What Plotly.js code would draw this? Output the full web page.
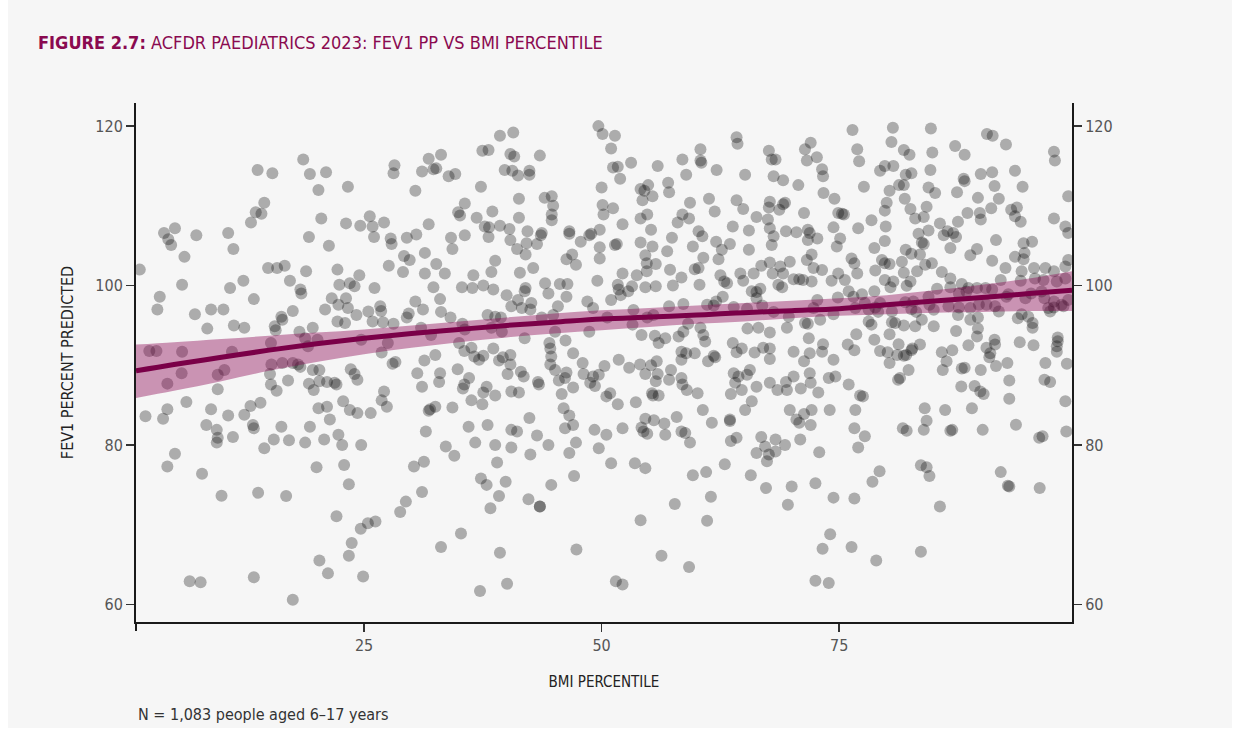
<!DOCTYPE html>
<html>
<head>
<meta charset="utf-8">
<script src="https://cdn.plot.ly/plotly-3.0.1.min.js"></script>
<style>
  html, body { margin: 0; padding: 0; background: #ffffff; }
  #panel { position: absolute; left: 8px; top: 0; width: 1224px; height: 728px; background: #f6f6f6; }
  #chart { position: absolute; left: 0; top: 0; width: 1240px; height: 731px; }
</style>
</head>
<body>
<div id="panel"></div>
<div id="chart"></div>
<script>
// Individual observations: [BMI percentile, FEV1 % predicted], grouped by region of the plot
const obsHighLow = [[13.8,114.5],[15.35,114.1],[18.6,115.8],[19.3,114.0],[21.0,114.2],[20.2,112.0],[23.3,112.4],[14.5,110.4],[13.6,109.2],[14.2,109.0],[13.1,107.9],[20.5,108.4],[23.1,107.8],[24.6,107.5],[3.95,106.6],[5.1,107.2],[4.4,105.8],[4.7,105.1],[7.35,106.3],[10.7,106.6],[11.25,104.6],[6.1,103.6],[19.2,106.1],[21.3,105.0],[1.4,102.0],[14.9,102.2],[15.85,102.2],[16.65,102.5],[18.9,101.8],[22.2,102.0],[24.5,101.3]];

const obsHighMidLow = [[39.3,118.8],[40.7,119.2],[49.66,120.0],[50.1,119.0],[37.45,116.9],[38.1,117.0],[40.4,116.5],[40.8,116.2],[43.5,116.3],[28.2,115.1],[28.1,114.1],[31.8,115.9],[33.1,116.4],[31.1,114.3],[32.3,114.6],[32.6,114.7],[33.9,113.7],[34.6,114.0],[39.8,114.5],[40.6,114.4],[41.2,113.8],[42.4,114.4],[42.4,113.9],[30.4,111.9],[37.3,112.4],[41.3,110.9],[44.0,111.0],[44.75,111.2],[44.9,110.0],[44.75,108.9],[44.75,108.2],[50.0,112.3],[50.1,110.1],[50.2,108.9],[35.6,110.3],[34.9,109.2],[35.1,108.8],[38.5,109.3],[36.85,108.5],[41.3,108.5],[25.6,108.7],[25.9,107.4],[27.1,107.9],[26.05,106.1],[27.8,105.9],[27.9,105.2],[29.5,106.0],[30.5,106.4],[31.8,107.7],[34.15,106.0],[34.3,104.6],[35.6,106.3],[37.7,107.4],[38.15,107.3],[38.1,106.1],[39.3,107.5],[40.3,107.1],[40.4,105.7],[42.2,106.8],[43.6,106.3],[43.7,106.6],[42.1,105.3],[43.2,105.2],[41.1,104.6],[42.0,103.9],[46.6,106.8],[46.6,106.5],[47.8,105.5],[48.7,106.3],[48.9,106.5],[49.8,107.0],[49.8,104.8],[49.8,103.4],[46.9,103.9],[46.3,103.3],[47.3,102.6],[29.2,103.7],[29.8,103.2],[31.4,104.1],[27.6,102.5],[32.6,102.7],[29.1,101.7],[31.4,101.5],[33.5,101.5],[36.5,101.3],[38.8,103.1],[38.4,101.7],[41.4,101.6],[42.8,102.2]];

const obsHighMidHigh = [[51.4,118.8],[51.0,117.2],[64.2,118.6],[64.3,117.8],[60.4,117.1],[60.4,115.7],[60.5,115.4],[67.6,116.9],[67.9,115.8],[68.3,115.8],[72.0,117.9],[71.4,117.1],[71.6,115.7],[72.65,116.1],[53.1,115.4],[55.9,115.0],[58.5,115.8],[62.1,114.5],[51.2,114.8],[51.7,114.9],[51.95,113.4],[58.9,113.9],[65.1,113.9],[68.1,113.7],[69.1,113.2],[70.7,112.6],[73.2,114.6],[73.3,113.7],[73.35,111.6],[54.1,112.1],[54.5,111.9],[54.9,112.6],[54.3,110.7],[55.35,111.2],[57.0,112.9],[57.1,111.7],[59.3,110.4],[61.3,110.9],[61.9,109.3],[64.2,110.7],[64.9,109.6],[67.7,110.5],[67.6,109.8],[68.7,109.5],[69.1,110.2],[69.3,110.4],[71.3,109.1],[74.5,110.9],[74.9,109.1],[51.2,109.7],[54.8,108.9],[54.1,108.4],[58.5,108.9],[58.0,107.9],[59.2,108.4],[52.2,107.7],[55.2,107.0],[57.4,106.0],[60.2,106.8],[60.6,106.2],[63.8,107.4],[65.5,106.9],[66.3,108.6],[67.5,108.3],[67.7,107.2],[68.1,106.2],[67.9,105.1],[69.4,106.8],[70.5,106.7],[71.7,107.0],[71.9,106.6],[71.7,105.7],[72.7,105.9],[74.4,107.3],[74.75,104.9],[51.4,105.1],[51.6,105.2],[54.1,105.4],[55.35,104.9],[54.6,103.8],[54.75,102.8],[55.7,102.7],[56.9,104.3],[59.6,104.9],[60.7,103.5],[62.05,105.5],[62.65,104.5],[62.3,103.3],[63.5,105.2],[65.5,104.5],[72.1,103.9],[71.6,103.2],[72.3,102.2],[67.7,102.9],[66.8,102.5],[68.8,102.4],[69.8,103.0],[73.2,101.95],[52.2,101.5],[53.7,101.3],[54.75,101.8],[57.2,101.97],[59.8,102.05],[60.2,102.2],[62.5,101.3],[64.6,101.5],[66.0,101.5],[68.0,101.5],[69.1,101.5]];

const obsHighHigh = [[76.4,119.5],[80.65,119.8],[84.65,119.7],[90.55,119.0],[91.15,118.8],[92.55,117.7],[97.6,116.8],[97.7,115.7],[80.5,118.0],[76.9,117.1],[77.1,115.6],[81.8,117.0],[82.4,116.4],[84.8,116.7],[87.2,117.5],[88.2,116.4],[79.8,115.0],[79.3,114.4],[80.7,115.0],[82.0,113.9],[82.6,114.1],[84.6,114.5],[88.1,113.4],[88.2,113.1],[89.9,114.0],[91.1,114.2],[93.5,114.4],[77.6,112.4],[80.3,111.9],[81.3,112.6],[81.8,112.6],[84.4,112.3],[85.1,111.6],[87.4,111.7],[91.35,112.5],[94.3,112.4],[99.1,111.2],[80.0,110.4],[81.9,110.9],[89.6,111.0],[91.8,110.9],[79.8,109.4],[82.5,109.6],[84.2,109.9],[83.0,108.4],[83.9,108.6],[75.3,109.0],[75.5,108.9],[78.4,108.2],[77.0,107.2],[79.9,107.4],[88.5,109.1],[89.8,109.1],[89.9,108.3],[91.0,109.7],[93.1,109.5],[93.7,109.8],[93.5,108.7],[94.1,108.0],[97.6,108.4],[98.8,107.4],[99.1,106.6],[85.6,107.8],[87.5,108.0],[86.4,106.8],[86.0,106.3],[87.0,106.6],[87.3,106.1],[83.35,106.5],[84.4,106.9],[83.7,105.4],[83.9,105.2],[79.8,105.6],[75.1,105.9],[78.7,104.7],[82.0,104.5],[82.6,104.0],[83.5,103.9],[86.7,104.7],[89.5,104.6],[91.5,105.7],[88.8,103.8],[94.4,105.3],[95.3,105.5],[94.5,104.1],[94.4,103.3],[93.5,103.6],[91.1,103.1],[76.3,103.4],[76.6,102.8],[79.5,103.2],[79.8,102.8],[80.3,102.7],[81.6,103.0],[84.05,102.6],[84.75,102.8],[78.8,101.9],[81.8,101.6],[83.2,101.8],[85.8,101.7],[92.5,102.2],[95.5,102.2],[96.7,102.2],[97.6,101.8],[98.8,102.4],[99.1,103.2],[94.2,101.8],[74.9,101.5],[76.9,101.5]];

const obsMidLow = [[5.85,100.1],[3.5,98.6],[3.25,97.0],[7.2,96.4],[8.5,94.6],[8.9,97.0],[10.2,97.0],[10.9,99.7],[12.3,100.6],[13.4,98.3],[11.3,95.0],[12.4,94.7],[17.2,100.6],[18.3,99.5],[18.4,99.0],[17.5,96.8],[16.3,96.1],[16.4,95.7],[15.6,94.9],[15.7,94.4],[15.2,92.8],[18.2,94.2],[18.8,93.4],[19.6,94.7],[19.1,92.4],[20.1,93.2],[20.9,97.0],[21.6,98.4],[22.4,100.1],[23.5,100.3],[24.0,99.9],[23.1,98.4],[22.3,97.6],[23.3,97.2],[24.2,96.3],[22.2,95.5],[23.0,95.3],[24.7,93.2],[2.4,91.8],[3.15,91.8],[5.85,91.7],[5.8,89.0],[4.3,87.7],[11.1,91.7],[10.3,89.4],[9.6,88.8],[9.6,87.0],[15.25,90.1],[15.1,88.9],[15.2,87.6],[15.8,86.8],[16.4,90.3],[17.0,88.1],[17.5,90.3],[18.05,90.1],[18.3,89.8],[19.6,89.4],[20.3,89.4],[19.2,87.7],[19.7,86.9],[20.3,88.0],[21.1,87.9],[21.9,87.8],[22.1,87.6],[23.6,89.5],[24.0,88.9],[24.3,88.2],[22.8,85.5],[23.5,84.4],[24.3,84.0],[20.2,84.6],[21.1,84.8],[21.4,83.2],[22.3,81.3],[22.7,80.0],[24.7,80.0],[2.0,83.6],[4.3,84.5],[3.85,83.3],[6.3,85.4],[8.9,84.5],[10.7,83.7],[12.4,83.8],[13.05,84.9],[14.1,85.3],[13.3,82.5],[13.4,82.1],[8.4,82.5],[9.5,81.9],[9.6,80.9],[9.5,80.3],[11.2,81.0],[15.5,80.7],[16.3,82.3],[17.1,80.6],[18.8,80.3],[19.3,82.3],[20.8,80.7],[14.5,79.6]];

const obsMidMidLow = [[26.1,99.7],[32.3,99.8],[35.3,99.8],[36.4,99.7],[37.55,100.0],[38.6,99.5],[33.0,98.3],[30.4,98.0],[31.2,97.0],[26.7,97.4],[25.45,96.75],[26.8,96.8],[29.7,96.5],[29.5,96.0],[25.9,95.5],[27.0,95.4],[28.1,95.2],[33.1,96.7],[34.1,96.0],[40.0,98.8],[40.5,97.4],[41.2,98.2],[41.9,99.3],[42.0,99.7],[41.6,97.2],[42.6,97.8],[42.5,97.0],[44.05,100.3],[44.4,99.0],[45.6,100.2],[46.4,100.2],[46.3,98.6],[45.4,97.4],[48.5,98.0],[49.55,100.6],[49.1,97.2],[38.0,96.3],[38.8,96.1],[39.4,96.0],[38.4,94.7],[39.5,94.2],[35.35,95.2],[35.6,94.5],[31.0,94.7],[32.05,93.8],[43.7,96.0],[44.9,96.3],[45.1,94.2],[41.9,93.4],[48.7,94.2],[46.2,93.1],[27.5,92.8],[26.85,91.6],[35.0,92.8],[35.55,91.8],[36.3,92.2],[36.6,91.1],[37.1,90.7],[37.55,91.2],[38.6,92.1],[39.2,90.6],[39.6,91.0],[40.4,91.3],[40.4,90.1],[40.1,88.9],[41.5,89.2],[41.8,88.6],[44.5,92.8],[44.6,92.1],[44.7,91.1],[44.6,90.1],[45.1,89.4],[47.0,91.5],[48.0,90.3],[46.3,89.1],[45.5,88.1],[46.15,88.4],[48.1,88.9],[49.1,88.6],[49.7,88.8],[48.8,87.8],[49.3,87.4],[47.0,87.2],[45.8,86.4],[46.0,84.6],[46.6,83.7],[47.0,82.5],[46.15,82.1],[47.3,80.3],[49.25,81.9],[28.3,90.4],[28.0,90.2],[31.35,90.6],[32.5,91.3],[30.6,89.0],[33.0,89.0],[32.9,87.9],[31.1,87.3],[34.85,89.5],[36.05,88.4],[35.55,87.6],[35.4,87.1],[37.9,87.3],[37.55,86.6],[38.8,86.2],[36.3,85.6],[37.45,85.1],[40.5,86.7],[41.3,86.6],[43.3,87.9],[43.4,87.6],[27.1,86.7],[26.85,85.6],[27.4,84.8],[25.7,84.0],[31.8,84.3],[31.95,84.5],[32.5,84.8],[34.3,84.7],[42.4,83.4],[40.5,81.9],[41.1,81.7],[43.2,81.2],[36.0,82.3],[38.0,82.5],[31.5,81.7],[36.7,80.3],[33.6,79.8],[38.8,80.0],[40.5,79.7],[44.4,80.0],[49.7,79.6]];

const obsMidMidHigh = [[58.4,101.0],[60.3,100.1],[57.5,100.0],[55.7,99.9],[54.6,99.8],[53.2,99.9],[52.8,99.3],[51.7,100.1],[51.8,99.5],[52.0,98.8],[51.0,98.2],[50.6,96.0],[53.35,96.95],[53.25,95.1],[55.45,96.3],[54.8,96.0],[57.1,97.4],[58.6,97.7],[59.1,95.2],[61.1,97.6],[62.05,98.0],[61.8,97.5],[62.75,98.6],[62.9,100.5],[63.2,100.3],[64.9,100.6],[65.8,99.3],[66.3,99.2],[66.7,99.6],[66.3,98.4],[66.9,97.5],[63.9,97.3],[65.3,97.1],[65.35,94.6],[66.5,94.7],[67.7,94.1],[68.1,96.7],[68.6,100.1],[69.0,99.8],[70.2,100.8],[70.8,100.8],[71.2,100.7],[72.1,100.5],[74.2,100.6],[72.7,98.2],[72.3,97.2],[69.7,96.1],[69.5,94.7],[71.4,95.3],[71.7,95.2],[73.0,95.7],[74.4,96.4],[55.6,93.7],[54.2,93.8],[56.0,92.8],[56.7,93.4],[58.1,93.6],[58.6,94.2],[60.4,94.7],[60.7,93.8],[60.9,92.99],[59.8,91.5],[58.9,91.5],[58.4,91.7],[58.4,90.7],[61.2,90.5],[61.8,91.2],[61.95,91.0],[63.8,92.8],[64.75,92.1],[64.2,91.65],[66.1,91.6],[67.0,92.2],[67.7,92.1],[67.7,90.8],[70.2,91.7],[71.8,93.4],[71.9,91.5],[71.3,90.5],[73.3,92.65],[73.2,91.7],[74.4,90.7],[51.8,90.7],[52.9,89.7],[54.05,90.1],[55.2,90.0],[55.8,90.5],[54.6,88.9],[55.9,88.9],[55.7,88.0],[57.1,88.2],[57.3,89.4],[58.4,88.4],[58.5,87.6],[58.96,86.9],[60.1,86.5],[50.3,89.9],[50.5,86.1],[50.9,86.5],[51.7,85.1],[53.6,85.35],[55.3,86.5],[55.4,86.2],[56.0,86.2],[63.9,89.0],[64.4,88.6],[65.3,88.8],[65.6,89.4],[64.05,87.8],[64.75,86.9],[63.6,86.4],[66.3,87.3],[67.7,87.8],[68.5,86.9],[69.5,86.9],[69.4,87.9],[70.2,88.6],[70.96,87.1],[72.0,87.8],[71.9,89.0],[72.8,86.6],[73.9,88.4],[74.6,88.6],[65.8,85.5],[65.1,84.4],[60.65,84.4],[57.9,83.5],[54.6,83.3],[55.5,83.1],[56.6,82.7],[54.2,82.2],[54.4,81.7],[54.8,81.4],[56.7,81.3],[52.2,82.1],[50.5,81.3],[58.4,81.7],[58.8,81.5],[59.3,80.3],[61.6,82.8],[63.5,83.2],[63.5,83.0],[63.6,80.5],[64.2,80.9],[66.8,81.0],[68.3,80.7],[69.3,80.0],[70.9,80.7],[70.5,83.2],[70.8,82.8],[69.8,84.4],[71.3,83.9],[72.1,84.4],[72.0,82.5],[74.0,84.4],[67.2,79.8]];

const obsMidHigh = [[75.6,100.7],[79.8,100.7],[80.7,100.5],[82.5,100.5],[86.7,100.9],[87.9,100.2],[88.6,99.7],[89.5,99.7],[90.4,99.7],[91.1,99.5],[92.0,100.7],[94.1,100.6],[95.6,100.9],[96.5,100.7],[97.9,100.5],[98.8,100.9],[74.86,98.5],[76.0,99.3],[76.5,98.6],[77.4,98.9],[78.7,99.3],[80.4,99.8],[82.1,99.97],[85.3,99.6],[86.7,99.8],[84.4,98.6],[87.6,99.0],[88.4,99.25],[92.6,98.6],[92.8,98.9],[94.6,98.4],[95.2,99.0],[96.3,99.25],[96.6,98.4],[97.6,98.0],[97.6,97.25],[98.6,97.4],[99.1,98.2],[77.7,97.8],[79.3,97.8],[76.7,97.2],[78.1,96.96],[78.8,97.25],[79.1,96.7],[80.55,96.75],[81.95,97.9],[82.8,98.0],[82.6,97.04],[83.1,96.7],[84.5,97.6],[84.95,96.96],[86.5,97.4],[87.6,97.25],[87.5,96.3],[88.8,97.2],[89.7,97.6],[90.5,97.6],[91.4,97.4],[91.8,96.75],[89.6,96.0],[88.8,95.7],[93.8,95.9],[94.2,96.4],[94.9,96.1],[95.35,95.3],[95.35,94.7],[97.0,97.2],[97.2,96.75],[98.4,97.6],[78.1,95.5],[78.4,95.1],[80.55,95.4],[80.9,95.3],[81.8,95.0],[83.0,94.9],[83.7,95.7],[84.95,94.9],[80.3,93.9],[81.25,92.65],[76.8,93.9],[75.9,92.6],[76.6,91.9],[78.7,93.2],[79.3,91.8],[80.1,91.65],[80.3,90.3],[81.1,91.3],[81.8,91.2],[82.05,91.3],[82.6,91.9],[82.7,92.1],[83.5,92.6],[82.3,89.4],[81.4,88.4],[81.2,88.2],[76.0,87.6],[77.2,86.2],[77.5,86.1],[76.7,84.4],[76.6,82.1],[77.7,81.1],[77.0,79.7],[84.0,84.6],[84.2,83.05],[83.9,81.9],[86.15,84.4],[81.7,82.1],[82.1,81.8],[86.7,81.8],[86.9,81.9],[88.97,84.6],[90.1,81.9],[92.9,85.8],[93.6,82.55],[96.05,80.9],[96.4,81.1],[98.9,81.7],[98.8,85.5],[87.3,94.3],[89.5,93.6],[89.6,94.6],[88.6,92.5],[90.5,92.2],[91.4,92.6],[91.35,93.2],[90.9,91.5],[90.8,91.0],[85.8,91.65],[86.9,91.9],[86.3,90.5],[85.9,89.4],[87.9,89.6],[88.2,89.7],[89.9,89.4],[91.5,89.9],[92.7,90.3],[94.0,92.9],[95.45,92.5],[96.7,90.3],[98.0,93.5],[98.0,93.0],[97.9,92.4],[97.9,91.7],[98.96,90.2],[92.9,88.1],[87.85,87.35],[89.25,87.4],[89.85,86.7],[90.2,86.4],[96.6,88.2],[97.2,87.9]];

const obsLowLow = [[5.1,78.9],[4.3,77.3],[7.95,76.4],[10.0,73.65],[13.85,74.0],[16.8,73.6],[20.0,77.2],[22.9,77.5],[23.4,75.07],[22.1,71.06],[24.65,69.5],[25.4,70.2],[23.7,67.7],[23.4,66.1],[20.3,65.5],[21.2,63.9],[24.9,63.5],[6.65,62.9],[7.8,62.8],[13.4,63.4],[17.5,60.6]];

const obsLowMidLow = [[34.5,78.66],[42.5,78.8],[46.6,79.0],[31.3,77.9],[30.25,77.3],[31.1,74.1],[29.4,72.9],[28.8,71.6],[26.2,70.4],[39.0,77.8],[37.3,75.8],[37.9,75.0],[39.9,75.4],[39.2,73.6],[38.3,72.06],[42.3,73.2],[43.5,72.3],[43.5,72.3],[44.7,75.0],[47.1,76.1],[35.2,68.9],[33.1,67.2],[39.3,66.5],[47.35,66.9],[37.2,61.7],[40.05,62.6]];

const obsLowMidHigh = [[51.0,77.7],[53.5,77.7],[54.6,77.1],[59.6,76.2],[61.0,76.6],[62.96,77.6],[66.3,79.0],[67.4,77.95],[67.6,78.8],[68.3,79.2],[72.9,79.1],[65.7,76.2],[67.3,74.6],[70.0,74.8],[72.5,75.2],[74.4,73.4],[69.6,72.5],[57.7,72.6],[61.5,73.5],[54.1,70.56],[61.1,70.5],[74.05,68.8],[73.25,67.0],[56.3,66.1],[59.2,64.7],[51.5,62.9],[52.2,62.5],[72.5,62.96],[73.9,62.7]];

const obsLowHigh = [[83.6,77.45],[84.2,77.2],[84.5,76.1],[79.25,76.7],[78.5,75.4],[76.6,73.3],[85.6,72.3],[92.0,76.6],[92.75,74.9],[92.9,74.8],[96.1,74.6],[76.3,67.2],[78.9,65.5],[83.6,66.6]];

// Fitted smooth with its confidence band
const fitBmi   = [1, 5, 10, 15, 20, 25, 30, 35, 40, 45, 50, 55, 60, 65, 70, 75, 80, 85, 90, 95, 99.5];
const fitFev1  = [89.3, 90.1, 91.0, 91.9, 92.7, 93.4, 94.0, 94.5, 95.0, 95.4, 95.8, 96.05, 96.3, 96.6, 96.85, 97.1, 97.6, 98.05, 98.5, 99.0, 99.4];
const fitLower = [85.9, 86.8, 88.0, 89.3, 90.4, 91.4, 92.2, 92.9, 93.5, 94.0, 94.4, 94.8, 95.2, 95.5, 95.9, 96.2, 96.4, 96.6, 96.7, 96.8, 96.8];
const fitUpper = [92.6, 92.9, 93.3, 93.7, 94.1, 94.5, 95.0, 95.5, 96.0, 96.5, 96.9, 97.2, 97.5, 97.8, 98.1, 98.4, 98.8, 99.4, 100.1, 100.9, 101.8];

const yTicks = [60, 80, 100, 120];
const xTicks = [25, 50, 75];

const allObs = [].concat(obsHighLow, obsHighMidLow, obsHighMidHigh, obsHighHigh,
  obsMidLow, obsMidMidLow, obsMidMidHigh, obsMidHigh,
  obsLowLow, obsLowMidLow, obsLowMidHigh, obsLowHigh);

const narrow = '"Liberation Sans Narrow", "DejaVu Sans Condensed", "Arial Narrow", sans-serif';
const maroon = '#7a0048';

const traces = [
  {
    type: 'scatter', mode: 'markers',
    x: allObs.map(p => p[0]), y: allObs.map(p => p[1]),
    marker: { size: 12, color: 'rgba(0,0,0,0.3)', line: { width: 0 } },
    hoverinfo: 'skip', showlegend: false
  },
  {
    type: 'scatter', mode: 'lines', x: fitBmi, y: fitLower,
    line: { width: 0, shape: 'spline', color: 'rgba(0,0,0,0)' },
    hoverinfo: 'skip', showlegend: false
  },
  {
    type: 'scatter', mode: 'lines', x: fitBmi, y: fitUpper,
    line: { width: 0, shape: 'spline', color: 'rgba(0,0,0,0)' },
    fill: 'tonexty', fillcolor: 'rgba(140,10,85,0.42)',
    hoverinfo: 'skip', showlegend: false
  },
  {
    type: 'scatter', mode: 'lines', x: fitBmi, y: fitFev1,
    line: { width: 5, shape: 'spline', color: maroon },
    hoverinfo: 'skip', showlegend: false
  },
  {
    type: 'scatter', mode: 'markers', x: [50], y: [90], yaxis: 'y2',
    marker: { opacity: 0 }, hoverinfo: 'skip', showlegend: false
  }
];

const axisCommon = {
  showgrid: false, zeroline: false,
  showline: true, linecolor: '#1a1a1a', linewidth: 2,
  ticks: 'outside', ticklen: 8, tickwidth: 1.5, tickcolor: '#333',
  tickfont: { family: narrow, size: 16, color: '#555' }
};

const layout = {
  width: 1240, height: 731,
  margin: { l: 136, r: 168, t: 103, b: 109, pad: 0 },
  paper_bgcolor: 'rgba(0,0,0,0)',
  plot_bgcolor: 'rgba(0,0,0,0)',
  title: {
    text: '<b>FIGURE 2.7:</b> ACFDR PAEDIATRICS 2023: FEV1 PP VS BMI PERCENTILE',
    x: 38 / 1240, xanchor: 'left', y: 1 - 43 / 731, yanchor: 'middle',
    font: { family: narrow, size: 18, color: '#8a0a50' }
  },
  xaxis: Object.assign({}, axisCommon, {
    range: [1.0, 99.5], tickvals: xTicks, ticktext: xTicks.map(String),
    title: { text: 'BMI PERCENTILE', standoff: 22, font: { family: narrow, size: 15, color: '#222' } }
  }),
  yaxis: Object.assign({}, axisCommon, {
    range: [57.8, 122.9], tickvals: yTicks, ticktext: yTicks.map(String),
    title: { text: 'FEV1 PERCENT PREDICTED', standoff: 18, font: { family: narrow, size: 16, color: '#222' } }
  }),
  yaxis2: Object.assign({}, axisCommon, {
    range: [57.8, 122.9], tickvals: yTicks, ticktext: yTicks.map(String),
    overlaying: 'y', side: 'right'
  }),
  shapes: [{
    // left axis line continues a little below the x axis
    type: 'line', xref: 'paper', yref: 'paper',
    x0: 0, x1: 0, y0: 0, y1: -9 / 519,
    line: { color: '#1a1a1a', width: 2 }
  }],
  annotations: [{
    text: 'N = 1,083 people aged 6\u201317 years',
    xref: 'paper', yref: 'paper', x: 0, y: (622 - 714) / 519,
    xanchor: 'left', yanchor: 'middle', showarrow: false,
    font: { family: narrow, size: 16, color: '#333' }
  }]
};

Plotly.newPlot('chart', traces, layout, { displayModeBar: false, staticPlot: true });
</script>
</body>
</html>
